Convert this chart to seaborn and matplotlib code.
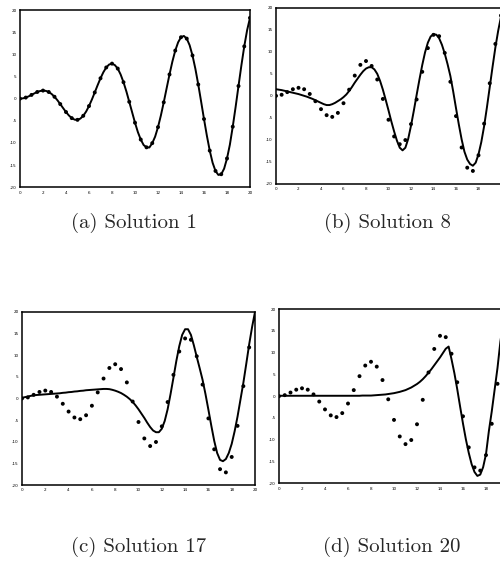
import numpy as np
import pandas as pd
import matplotlib
matplotlib.use('Agg')
import matplotlib.pyplot as plt
import seaborn as sns

# sampled data points (same in every panel), x = 0..20 step 0.5
data_y = [0.0, 0.24, 0.84, 1.50, 1.82, 1.50, 0.42, -1.23, -3.03, -4.40,
          -4.79, -3.88, -1.68, 1.40, 4.60, 7.04, 7.91, 6.79, 3.71, -0.71,
          -5.44, -9.24, -11.0, -10.06, -6.44, -0.83, 5.46, 10.85, 13.87, 13.56,
          9.75, 3.20, -4.61, -11.75, -16.34, -17.08, -13.52, -6.33, 2.85, 11.80,
          18.26]

# fitted curves, x = 0..20 step 0.25
fit_1 = [0.0, 0.06, 0.24, 0.51, 0.84, 1.19, 1.50, 1.72, 1.82, 1.75,
         1.50, 1.05, 0.42, -0.35, -1.23, -2.14, -3.03, -3.80, -4.40, -4.75,
         -4.79, -4.51, -3.88, -2.92, -1.68, -0.21, 1.40, 3.04, 4.60, 5.97,
         7.04, 7.71, 7.91, 7.57, 6.79, 5.46, 3.71, 1.63, -0.71, -3.08,
         -5.44, -7.56, -9.24, -10.48, -11.0, -11.04, -10.06, -8.59, -6.44, -3.81,
         -0.83, 2.33, 5.46, 8.37, 10.85, 12.73, 13.87, 14.16, 13.56, 12.07,
         9.75, 6.74, 3.20, -0.67, -4.61, -8.38, -11.75, -14.50, -16.34, -17.24,
         -17.08, -15.82, -13.52, -10.40, -6.33, -1.87, 2.85, 7.49, 11.80, 15.47,
         18.26]

fit_8 = [1.5, 1.4, 1.3, 1.15, 1.0, 0.85, 0.7, 0.55, 0.4, 0.2,
         0.0, -0.2, -0.45, -0.7, -1.0, -1.3, -1.6, -1.9, -2.1, -2.1,
         -1.9, -1.6, -1.2, -0.8, -0.3, 0.3, 1.1, 2.0, 3.0, 3.9,
         4.8, 5.6, 6.2, 6.5, 6.5, 6.0, 5.0, 3.4, 1.4, -0.9,
         -3.3, -5.8, -8.1, -10.2, -11.8, -12.4, -11.8, -9.8, -6.8, -3.4,
         0.2, 3.7, 7.0, 9.9, 12.1, 13.5, 14.0, 13.9, 13.1, 11.6,
         9.6, 7.2, 4.5, 1.0, -2.8, -6.5, -9.9, -12.7, -14.5, -15.5,
         -15.9, -15.2, -13.3, -10.5, -6.9, -2.6, 2.0, 6.6, 11.0, 14.8,
         18.0]

fit_17 = [0.15, 0.3, 0.45, 0.6, 0.7, 0.8, 0.85, 0.9, 0.95, 1.0,
          1.05, 1.1, 1.15, 1.2, 1.3, 1.35, 1.45, 1.5, 1.6, 1.65,
          1.75, 1.8, 1.9, 1.95, 2.0, 2.05, 2.1, 2.15, 2.2, 2.2,
          2.15, 2.0, 1.8, 1.55, 1.25, 0.85, 0.4, -0.15, -0.8, -1.6,
          -2.5, -3.5, -4.5, -5.6, -6.6, -7.4, -7.8, -7.8, -7.0, -5.2,
          -2.5, 1.0, 4.8, 8.7, 12.1, 14.7, 16.0, 16.0, 14.7, 12.3,
          9.6, 7.0, 4.3, 1.0, -2.6, -6.3, -9.8, -12.6, -14.2, -14.5,
          -14.0, -12.6, -10.5, -7.6, -4.2, -0.3, 3.6, 8.0, 12.5, 16.5,
          20.0]

fit_20 = [0.1, 0.1, 0.1, 0.1, 0.1, 0.1, 0.1, 0.1, 0.1, 0.1,
          0.1, 0.1, 0.1, 0.1, 0.1, 0.1, 0.1, 0.1, 0.1, 0.1,
          0.1, 0.1, 0.1, 0.1, 0.1, 0.1, 0.1, 0.1, 0.1, 0.15,
          0.15, 0.15, 0.15, 0.2, 0.25, 0.3, 0.35, 0.4, 0.5, 0.6,
          0.7, 0.85, 1.0, 1.2, 1.4, 1.7, 2.0, 2.4, 2.8, 3.3,
          3.9, 4.6, 5.4, 6.2, 7.1, 8.0, 8.9, 9.9, 10.9, 11.4,
          8.5, 5.3, 1.6, -2.4, -6.3, -9.9, -13.0, -15.6, -17.4, -18.3,
          -18.0, -16.3, -13.3, -8.0, -3.5, 1.5, 6.5, 12.5, 17.0, 21.0,
          25.0]

captions = ['(a) Solution 1', '(b) Solution 8', '(c) Solution 17', '(d) Solution 20']
x_ticks = [0, 2, 4, 6, 8, 10, 12, 14, 16, 18, 20]
y_ticks = [-20, -15, -10, -5, 0, 5, 10, 15, 20]

data_x = np.arange(0, 20.01, 0.5)
fit_x = np.arange(0, 20.01, 0.25)
pts = pd.DataFrame({'x': data_x, 'y': data_y})

sns.set_style('white')
plt.rcParams['axes.unicode_minus'] = False

fig = plt.figure(figsize=(5, 5.62), dpi=100)

# axes boxes [left, bottom, width, height] in figure fractions
boxes = [[0.040, 0.667, 0.460, 0.315],
         [0.552, 0.673, 0.450, 0.313],
         [0.044, 0.137, 0.466, 0.308],
         [0.558, 0.140, 0.460, 0.310]]
caption_pos = [(0.268, 0.603), (0.774, 0.603), (0.278, 0.027), (0.784, 0.027)]
fits = [fit_1, fit_8, fit_17, fit_20]
# right-hand panels run into the page edge, so their last x label is dropped
last_label = [True, False, True, False]

for box, fit, cap, cpos, keep in zip(boxes, fits, captions, caption_pos, last_label):
    ax = fig.add_axes(box)
    curve = pd.DataFrame({'x': fit_x, 'y': fit})
    sns.lineplot(data=curve, x='x', y='y', ax=ax, color='black', lw=1.4)
    sns.scatterplot(data=pts, x='x', y='y', ax=ax, color='black', s=8,
                    marker='o', edgecolor='none')
    ax.set_xlim(0, 20)
    ax.set_ylim(-20, 20)
    ax.set_xticks(x_ticks)
    labels = [str(t) for t in x_ticks]
    if not keep:
        labels[-1] = ''
    ax.set_xticklabels(labels)
    ax.set_yticks(y_ticks)
    ax.tick_params(labelsize=3, length=2, width=0.9, pad=0.5, colors='black')
    ax.set_xlabel('')
    ax.set_ylabel('')
    for s in ax.spines.values():
        s.set_color('black')
        s.set_linewidth(1.1)
    fig.text(cpos[0], cpos[1], cap, ha='center', va='center',
             fontsize=15, family='cmr10')

fig.savefig('out.png', dpi=100, facecolor='white')
